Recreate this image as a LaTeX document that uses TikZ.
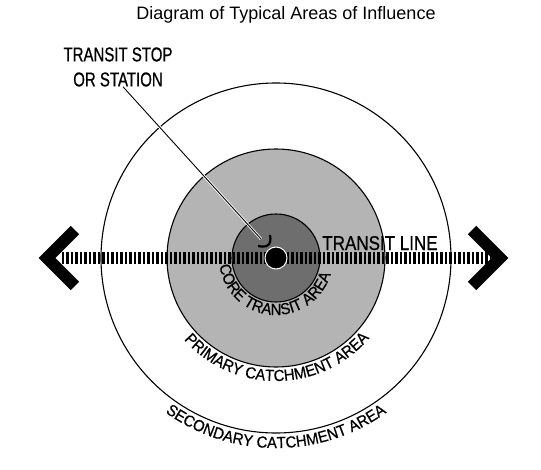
\documentclass[tikz,border=0pt]{standalone}
\usepackage{fontspec}
\setmainfont{Liberation Sans}
\newfontfamily\narrowfont[FakeStretch=0.75,FakeBold=0.7]{Liberation Sans}
\newfontfamily\linefont[FakeStretch=0.85,FakeBold=0.7]{Liberation Sans}
\newfontfamily\arcfont[FakeStretch=0.93,FakeBold=0.6]{Liberation Sans}
\newcommand{\arclabelfont}{\arcfont\fontsize{16}{18}\selectfont}
\usetikzlibrary{decorations.text}
\definecolor{primarygray}{RGB}{180,180,180}
\definecolor{coregray}{RGB}{110,110,110}

\begin{document}
\begin{tikzpicture}[x=1pt,y=1pt]
	\tikzset{area ring/.style={draw=black, line width=1.1pt},
		chevron/.style={line width=12pt, line join=miter},
		arc label/.style={decorate, decoration={text along path, text align=center, text={|\arclabelfont|#1}}}}
	\useasboundingbox (-276,-211) rectangle (265,258);
	% areas
	\draw [area ring, fill=white] (0,0) circle (175);
	\draw [area ring, fill=primarygray] (0,0) circle (109);
	\draw [area ring, fill=coregray] (0,0) circle (44);
	% transit line
	\draw [line width=12pt, dash pattern=on 2.5pt off 2pt] (-214,0) -- (214,0);
	\draw [chevron] (-201,28) -- (-229,0) -- (-201,-28);
	\draw [chevron] (196,28) -- (224,0) -- (196,-28);
	% stop and leader
	\node [font=\narrowfont\fontsize{20}{25}\selectfont, align=center, inner sep=0pt] (stoplabel) at (-158,191) {TRANSIT STOP\\OR STATION};
	\coordinate (leaderend) at (-15,19);
	\draw [white, line width=2.6pt] ([xshift=5pt]stoplabel.south) -- (leaderend);
	\draw [black, line width=0.9pt] ([xshift=5pt]stoplabel.south) -- (leaderend);
	\draw [line width=2.2pt] (-6,23) .. controls (-4,13) and (-9,10) .. (-18,12);
	\node [circle, fill=black, draw=white, line width=1pt, minimum size=22pt, inner sep=0pt] (stop) at (0,0) {};
	\node [font=\linefont\fontsize{20}{24}\selectfont, anchor=base, inner sep=0pt] (linelabel) at (104,8) {TRANSIT LINE};
	% curved labels
	\path [arc label=CORE TRANSIT AREA] (175.5:57) arc [start angle=175.5, end angle=355.5, radius=57];
	\path [arc label=PRIMARY CATCHMENT AREA] (180.5:123) arc [start angle=180.5, end angle=360.5, radius=123];
	\path [arc label=SECONDARY CATCHMENT AREA] (200:190) arc [start angle=200, end angle=340, radius=190];
	\node [font=\fontsize{18}{22}\selectfont, anchor=base] (title) at (10,238) {Diagram of Typical Areas of Influence};
\end{tikzpicture}
\end{document}
